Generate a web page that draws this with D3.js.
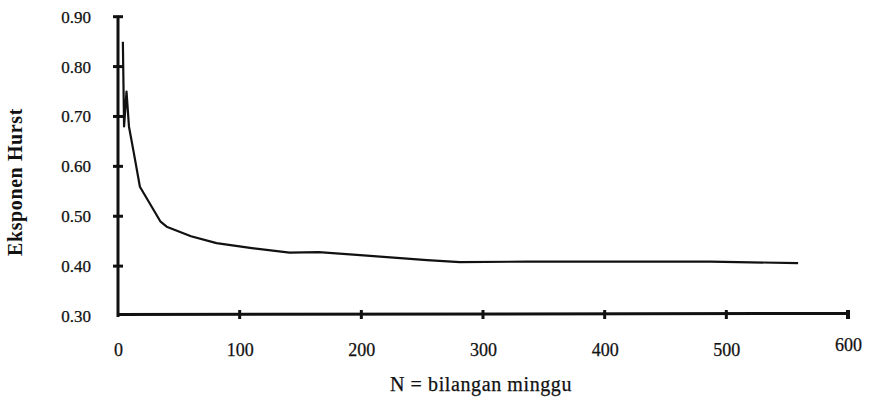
<!DOCTYPE html>
<html>
<head>
<meta charset="utf-8">
<script src="https://cdn.jsdelivr.net/npm/d3@7"></script>
<style>
  html, body { margin: 0; padding: 0; background: #fff; }
  svg { display: block; }
</style>
</head>
<body>
<svg id="chart" width="871" height="404"></svg>
<script>
// ---- data ----
const weeksN = [4, 5, 7, 9, 13, 18, 35, 40, 60, 81, 110, 141, 165, 199, 254, 281, 336, 400, 487, 559];
const hurstH = [0.85, 0.68, 0.75, 0.68, 0.627, 0.559, 0.489, 0.479, 0.46, 0.446, 0.436, 0.427, 0.428, 0.422, 0.412, 0.408, 0.409, 0.409, 0.409, 0.406];
const xTickValues = [0, 100, 200, 300, 400, 500, 600];
const xTickLabels = ["0", "100", "200", "300", "400", "500", "600"];
const yTickValues = [0.3, 0.4, 0.5, 0.6, 0.7, 0.8, 0.9];
const yTickLabels = ["0.30", "0.40", "0.50", "0.60", "0.70", "0.80", "0.90"];
const xTitle = "N = bilangan minggu";
const yTitle = "Eksponen Hurst";

const FONT = "'Liberation Serif', 'Times New Roman', serif";

// ---- layout ----
const svg = d3.select("#chart");
const x = d3.scaleLinear().domain([0, 600]).range([118, 848]);
const y = d3.scaleLinear().domain([0.3, 0.9]).range([316, 16.7]);

// y axis
const yAxis = d3.axisLeft(y)
  .tickValues(yTickValues)
  .tickFormat((d, i) => yTickLabels[i])
  .tickSize(0)
  .tickPadding(27);
const gy = svg.append("g").attr("transform", `translate(${x(0)},0)`).call(yAxis);
gy.attr("font-family", FONT);
gy.select(".domain").remove();
gy.selectAll("text").style("font-family", FONT).style("font-size", "17px")
  .attr("fill", "#111").attr("stroke", "#111").attr("stroke-width", 0.25);

// y axis line and tick marks
svg.append("line")
  .attr("x1", x(0)).attr("x2", x(0))
  .attr("y1", y(0.9) - 1).attr("y2", y(0.3) + 1)
  .attr("stroke", "#111").attr("stroke-width", 3);
svg.selectAll(".ytk").data(yTickValues.slice(1)).enter().append("line")
  .attr("x1", x(0) - 5).attr("x2", x(0) + 5)
  .attr("y1", d => y(d)).attr("y2", d => y(d))
  .attr("stroke", "#111").attr("stroke-width", 3);

// x axis
const xAxis = d3.axisBottom(x)
  .tickValues(xTickValues)
  .tickFormat((d, i) => xTickLabels[i])
  .tickSize(0)
  .tickPadding(29);
const gx = svg.append("g").attr("transform", `translate(0,${y(0.3) - 1.5})`).call(xAxis);
gx.attr("font-family", FONT);
gx.select(".domain").remove();
gx.selectAll("text").style("font-family", FONT).style("font-size", "18px")
  .attr("fill", "#111").attr("stroke", "#111").attr("stroke-width", 0.25)
  .attr("dy", d => d === 600 ? "0.4em" : "0.71em");

svg.append("line")
  .attr("x1", x(0) - 1).attr("x2", x(600))
  .attr("y1", y(0.3) - 1.5).attr("y2", y(0.3) - 2.5)
  .attr("stroke", "#111").attr("stroke-width", 3);
svg.selectAll(".xtk").data(xTickValues.slice(1)).enter().append("line")
  .attr("x1", d => x(d)).attr("x2", d => x(d))
  .attr("y1", y(0.3) - 6).attr("y2", y(0.3) + 3)
  .attr("stroke", "#111").attr("stroke-width", d => d === 600 ? 4 : 3);

// titles
svg.append("text")
  .attr("x", 481).attr("y", 391)
  .attr("text-anchor", "middle")
  .style("font-family", FONT)
  .style("font-size", "20px")
  .style("letter-spacing", "0.6px")
  .attr("fill", "#111").attr("stroke", "#111").attr("stroke-width", 0.25)
  .text(xTitle);
svg.append("text")
  .attr("transform", "translate(22,182) rotate(-90)")
  .attr("text-anchor", "middle")
  .style("font-family", FONT)
  .style("font-size", "20px")
  .style("font-weight", "bold")
  .style("letter-spacing", "0.6px")
  .attr("fill", "#111")
  .text(yTitle);

// line
const line = d3.line()
  .x((d, i) => x(weeksN[i]))
  .y((d, i) => y(hurstH[i]));
svg.append("path")
  .datum(hurstH)
  .attr("d", line)
  .attr("fill", "none")
  .attr("stroke", "#111")
  .attr("stroke-width", 2.2)
  .attr("stroke-linejoin", "round");
</script>
</body>
</html>
